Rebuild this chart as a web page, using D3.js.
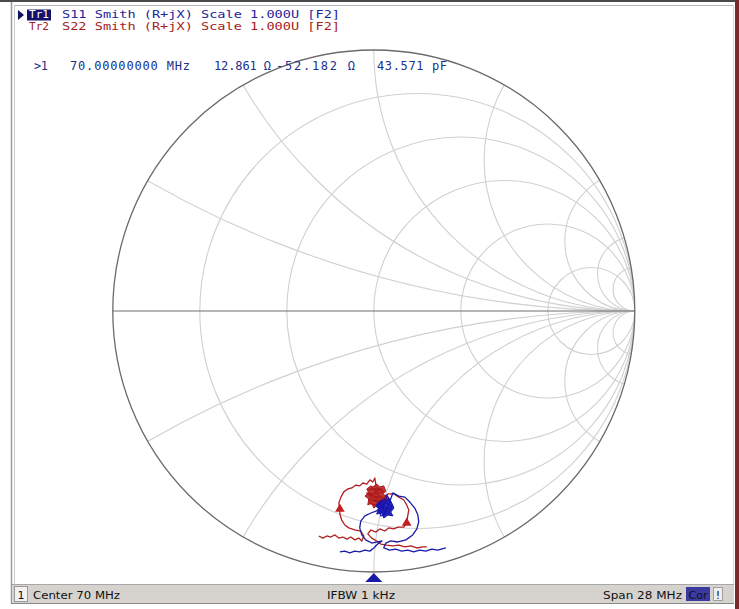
<!DOCTYPE html>
<html>
<head>
<meta charset="utf-8">
<script src="https://cdn.jsdelivr.net/npm/d3@7"></script>
<style>
  body { margin: 0; background: #fff; }
  svg { display: block; }
  .mono { font-family: "DejaVu Sans Mono", "Liberation Mono", monospace; font-size: 11px; }
  .status { font-family: "DejaVu Sans", "Liberation Sans", sans-serif; font-size: 11px; fill: #111; }
</style>
</head>
<body>
<script>
/** chart geometry */
const width = 739;
const height = 609;
const cx = 373.8, cy = 311, R = 261;

/** grid values (normalised r and x) */
const resistanceValues = [0.2, 0.5, 1, 2, 5];
const reactanceValues = [0.268, 0.577, 1, 1.732, 3.73, 7, 12];

/** header texts */
const traceHeaders = [
    { tr: "Tr1", text: "S11 Smith (R+jX) Scale 1.000U [F2]", color: "#1e249a" },
    { tr: "Tr2", text: "S22 Smith (R+jX) Scale 1.000U [F2]", color: "#a41c1c" }
];
const markerReadout = [">1", "70.00000000 MHz", "12.861 \u03a9", "-52.182 \u03a9", "43.571 pF"];
const statusTexts = ["Center 70 MHz", "IFBW 1 kHz", "Span 28 MHz"];

/** traces, reflection coefficient [re, im] */
const s22Trace = [
    [-0.211,-0.862],[-0.195,-0.870],[-0.180,-0.862],[-0.165,-0.866],[-0.149,-0.858],[-0.134,-0.870],
    [-0.119,-0.866],[-0.103,-0.874],[-0.088,-0.866],[-0.073,-0.877],[-0.057,-0.870],[-0.046,-0.881],
    [-0.038,-0.862],[-0.050,-0.843],[-0.073,-0.839],[-0.096,-0.831],[-0.111,-0.820],[-0.123,-0.801],
    [-0.130,-0.778],[-0.130,-0.759],[-0.134,-0.736],[-0.126,-0.713],[-0.115,-0.693],[-0.100,-0.682],
    [-0.084,-0.678],[-0.069,-0.667],[-0.054,-0.670],[-0.042,-0.659],[-0.027,-0.663],[-0.015,-0.647],
    [-0.004,-0.655],[0.004,-0.640],[0.008,-0.667],
    [-0.019,-0.686],[0.015,-0.678],[0.038,-0.693],[0.004,-0.701],[-0.027,-0.697],[-0.008,-0.716],
    [0.027,-0.709],[0.046,-0.724],[0.015,-0.732],[-0.019,-0.720],[-0.011,-0.739],[0.023,-0.747],
    [0.042,-0.736],[0.000,-0.686],[0.031,-0.682],[-0.015,-0.705],[0.019,-0.713],[-0.004,-0.728],
    [0.031,-0.724],[0.008,-0.743],[0.054,-0.701],
    [0.077,-0.701],[0.096,-0.713],[0.115,-0.724],[0.126,-0.743],[0.134,-0.762],[0.130,-0.785],
    [0.126,-0.812],[0.115,-0.828],[0.092,-0.828],[0.077,-0.835],[0.057,-0.831],[0.042,-0.843],
    [0.023,-0.835],[0.008,-0.847],[-0.011,-0.839],[-0.023,-0.854],
    [-0.008,-0.870],[0.011,-0.881],[0.027,-0.893],[0.050,-0.897],[0.073,-0.900],[0.096,-0.897],
    [0.119,-0.904],[0.142,-0.900],[0.165,-0.908],[0.188,-0.904],[0.203,-0.904]
];
const s11Trace = [
    [-0.130,-0.923],[-0.111,-0.920],[-0.092,-0.927],[-0.073,-0.920],[-0.054,-0.923],[-0.034,-0.916],
    [-0.015,-0.920],[0.000,-0.908],[0.015,-0.893],[0.031,-0.881],
    [-0.008,-0.889],[-0.031,-0.877],[-0.046,-0.858],[-0.054,-0.831],[-0.050,-0.805],[-0.034,-0.785],
    [-0.011,-0.774],[0.011,-0.766],
    [0.031,-0.747],[0.054,-0.759],[0.038,-0.778],[0.019,-0.759],[0.046,-0.736],[0.069,-0.747],
    [0.057,-0.774],[0.027,-0.785],[0.015,-0.739],[0.042,-0.720],[0.065,-0.732],[0.050,-0.705],
    [0.034,-0.766],[0.061,-0.755],[0.023,-0.751],[0.046,-0.770],
    [0.073,-0.697],[0.096,-0.709],[0.119,-0.713],[0.138,-0.732],[0.157,-0.755],[0.169,-0.782],
    [0.172,-0.808],[0.165,-0.835],[0.149,-0.858],[0.123,-0.877],[0.092,-0.885],[0.065,-0.881],
    [0.046,-0.889],
    [0.038,-0.908],[0.061,-0.916],[0.084,-0.912],[0.107,-0.920],[0.130,-0.916],[0.153,-0.923],
    [0.176,-0.916],[0.199,-0.920],[0.222,-0.912],[0.245,-0.916],[0.276,-0.908]
];
/** dense spots where each trace piles up (outline, [re, im]) */
const s22Cluster = [
    [-0.027,-0.682],[-0.011,-0.670],[0.000,-0.678],[0.011,-0.663],[0.023,-0.674],[0.038,-0.670],
    [0.046,-0.690],[0.034,-0.701],[0.054,-0.713],[0.046,-0.732],[0.031,-0.728],[0.038,-0.747],
    [0.015,-0.743],[0.000,-0.755],[-0.008,-0.736],[-0.023,-0.743],[-0.019,-0.720],[-0.034,-0.709],
    [-0.019,-0.697]
];
const s11Cluster = [
    [0.015,-0.736],[0.031,-0.724],[0.046,-0.732],[0.057,-0.716],[0.069,-0.736],[0.077,-0.755],
    [0.065,-0.770],[0.073,-0.785],[0.054,-0.782],[0.038,-0.793],[0.031,-0.774],[0.011,-0.778],
    [0.019,-0.759],[0.008,-0.747]
];
const s22Markers = [[-0.130, -0.759], [0.126, -0.812]];
const stimulusMarker = [0, -1];

var svg, x_scale, y_scale, rScale;

function generateScale() {
    x_scale = d3.scaleLinear().domain([-1, 1]).range([cx - R, cx + R]);
    y_scale = d3.scaleLinear().domain([-1, 1]).range([cy + R, cy - R]);
    rScale = d3.scaleLinear().domain([0, 1]).range([0, R]);
}

function generateFrame() {
    svg.append("rect").attr("x", 0).attr("y", 0).attr("width", width).attr("height", height).attr("fill", "#ffffff");
    svg.append("rect").attr("x", 0).attr("y", 0).attr("width", width).attr("height", 2).attr("fill", "#4a4a4a");
    svg.append("line").attr("x1", 14).attr("x2", 733).attr("y1", 5.5).attr("y2", 5.5).attr("stroke", "#b8b8b8");
    svg.append("line").attr("x1", 11.5).attr("x2", 11.5).attr("y1", 2).attr("y2", 604).attr("stroke", "#9a9a9a").attr("stroke-width", 1.5);
    svg.append("line").attr("x1", 14.5).attr("x2", 14.5).attr("y1", 5).attr("y2", 586).attr("stroke", "#c8c8c8");
    svg.append("rect").attr("x", 735).attr("y", 0).attr("width", 4).attr("height", height).attr("fill", "#7a2a2a");
    svg.append("line").attr("x1", 733.5).attr("x2", 733.5).attr("y1", 5).attr("y2", 604).attr("stroke", "#d8d8d8");
}

function generateGrid() {
    const clip = svg.append("clipPath").attr("id", "unit");
    clip.append("circle").attr("cx", x_scale(0)).attr("cy", y_scale(0)).attr("r", rScale(1));

    const grid = svg.append("g").attr("clip-path", "url(#unit)")
        .attr("fill", "none").attr("stroke", "#d0d0d0").attr("stroke-width", 1.1);

    grid.selectAll("circle.res")
        .data(resistanceValues)
        .enter()
        .append("circle")
        .attr("class", "res")
        .attr("cx", (r) => x_scale(r / (1 + r)))
        .attr("cy", y_scale(0))
        .attr("r", (r) => rScale(1 / (1 + r)));

    const reac = reactanceValues.concat(reactanceValues.map((v) => -v));
    grid.selectAll("circle.reac")
        .data(reac)
        .enter()
        .append("circle")
        .attr("class", "reac")
        .attr("cx", x_scale(1))
        .attr("cy", (v) => y_scale(1 / v))
        .attr("r", (v) => rScale(1 / Math.abs(v)));

    // real axis and outer circle
    svg.append("line")
        .attr("x1", x_scale(-1)).attr("x2", x_scale(1))
        .attr("y1", y_scale(0)).attr("y2", y_scale(0))
        .attr("stroke", "#6e6e6e").attr("stroke-width", 1.2);
    svg.append("circle")
        .attr("cx", x_scale(0)).attr("cy", y_scale(0)).attr("r", rScale(1))
        .attr("fill", "none").attr("stroke", "#6a6a6a").attr("stroke-width", 1.3);
}

function generateTraces() {
    const line = d3.line().x((d) => x_scale(d[0])).y((d) => y_scale(d[1]));
    const blob = d3.line().x((d) => x_scale(d[0])).y((d) => y_scale(d[1])).curve(d3.curveLinearClosed);

    svg.append("path").datum(s22Trace).attr("d", line)
        .attr("fill", "none").attr("stroke", "#b02020").attr("stroke-width", 1.3).attr("stroke-linejoin", "round");
    svg.append("path").datum(s22Cluster).attr("d", blob)
        .attr("fill", "#b01818").attr("fill-opacity", 0.85)
        .attr("stroke", "#b01818").attr("stroke-width", 1);

    svg.append("path").datum(s11Trace).attr("d", line)
        .attr("fill", "none").attr("stroke", "#1a1aa8").attr("stroke-width", 1.3).attr("stroke-linejoin", "round");
    svg.append("path").datum(s11Cluster).attr("d", blob)
        .attr("fill", "#1414b0").attr("fill-opacity", 0.9)
        .attr("stroke", "#1414b0").attr("stroke-width", 1);

    const tri = d3.symbol().type(d3.symbolTriangle).size(40);
    svg.selectAll("path.s22m")
        .data(s22Markers)
        .enter()
        .append("path")
        .attr("class", "s22m")
        .attr("d", tri)
        .attr("transform", (d) => "translate(" + x_scale(d[0]) + "," + y_scale(d[1]) + ")")
        .attr("fill", "#c02020");

    const s = stimulusMarker;
    const px = x_scale(s[0]), py = y_scale(s[1]);
    svg.append("path")
        .attr("d", "M" + px + "," + (py + 1) + " L" + (px + 8.5) + "," + (py + 10) + " L" + (px - 8.5) + "," + (py + 10) + " Z")
        .attr("fill", "#1a1aa8");
}

function generateTexts() {
    // active trace pointer and box
    svg.append("path").attr("d", "M18,10 L24,15 L18,20 Z").attr("fill", "#101060");
    svg.append("rect").attr("x", 27).attr("y", 9.5).attr("width", 24).attr("height", 11).attr("fill", "#12126e");

    traceHeaders.forEach((h, i) => {
        const y = 18 + i * 12;
        svg.append("text").attr("class", "mono").attr("x", 29).attr("y", y)
            .attr("fill", i === 0 ? "#ffffff" : h.color)
            .attr("textLength", 20).attr("lengthAdjust", "spacingAndGlyphs")
            .text(h.tr);
        svg.append("text").attr("class", "mono").attr("x", 62).attr("y", y)
            .attr("fill", h.color)
            .attr("textLength", 278).attr("lengthAdjust", "spacingAndGlyphs")
            .text(h.text);
    });

    const readX = [34, 70, 214, 276, 377];
    const readW = [14, 120, 57, 79, 70];
    markerReadout.forEach((t, i) => {
        svg.append("text").attr("class", "mono").attr("x", readX[i]).attr("y", 69.5)
            .attr("fill", "#20308c")
            .style("font-size", "12px")
            .attr("textLength", readW[i]).attr("lengthAdjust", "spacing")
            .text(t);
    });
}

function generateStatusBar() {
    svg.append("rect").attr("x", 12).attr("y", 584).attr("width", 722).attr("height", 19).attr("fill", "#d6d3ce");
    svg.append("line").attr("x1", 12).attr("x2", 734).attr("y1", 584.5).attr("y2", 584.5).attr("stroke", "#a8a8a8");
    svg.append("line").attr("x1", 12).attr("x2", 734).attr("y1", 603.5).attr("y2", 603.5).attr("stroke", "#8a8a8a");
    svg.append("rect").attr("x", 14.5).attr("y", 586.5).attr("width", 13).attr("height", 15).attr("fill", "#f2f2f2").attr("stroke", "#9a9a9a");
    svg.append("text").attr("class", "status").attr("x", 21).attr("y", 599).attr("text-anchor", "middle").text("1");

    svg.append("text").attr("class", "status").attr("x", 33).attr("y", 599)
        .attr("textLength", 87).attr("lengthAdjust", "spacingAndGlyphs").text(statusTexts[0]);
    svg.append("text").attr("class", "status").attr("x", 327).attr("y", 599)
        .attr("textLength", 68).attr("lengthAdjust", "spacingAndGlyphs").text(statusTexts[1]);
    svg.append("text").attr("class", "status").attr("x", 603).attr("y", 599)
        .attr("textLength", 79).attr("lengthAdjust", "spacingAndGlyphs").text(statusTexts[2]);

    svg.append("rect").attr("x", 686).attr("y", 587).attr("width", 24).attr("height", 14).attr("fill", "#3a3aa0");
    svg.append("text").attr("class", "status").attr("x", 698).attr("y", 599).attr("text-anchor", "middle")
        .attr("fill", "#dcdcf4").text("Cor");
    svg.append("rect").attr("x", 713.5).attr("y", 587.5).attr("width", 9).attr("height", 13).attr("fill", "#eeeeee").attr("stroke", "#a0a0a0");
    svg.append("text").attr("class", "status").attr("x", 718).attr("y", 599).attr("text-anchor", "middle").text("!");
}

document.addEventListener("DOMContentLoaded", function () {
    svg = d3.select("body")
        .append("svg")
        .attr("width", width)
        .attr("height", height);
    generateScale();
    generateFrame();
    generateGrid();
    generateTraces();
    generateTexts();
    generateStatusBar();
});
</script>
</body>
</html>
